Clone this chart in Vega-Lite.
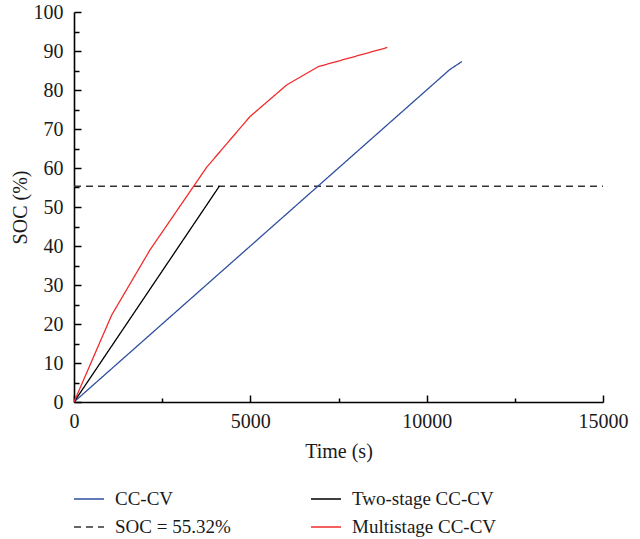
{
  "$schema": "https://vega.github.io/schema/vega-lite/v6.json",
  "autosize": "none",
  "width": 529,
  "height": 390,
  "padding": {"left": 74, "top": 12, "right": 37, "bottom": 137},
  "background": "white",
  "config": {
    "view": {"stroke": null},
    "font": "Liberation Serif, serif",
    "axis": {
      "grid": false,
      "domainColor": "#000000",
      "domainWidth": 1.6,
      "tickColor": "#000000",
      "tickWidth": 1.5,
      "labelFont": "Liberation Serif, serif",
      "labelFontSize": 20,
      "labelColor": "#1a1a1a",
      "titleFont": "Liberation Serif, serif",
      "titleFontSize": 20,
      "titleFontWeight": "normal",
      "titleColor": "#1a1a1a"
    },
    "legend": {
      "labelFont": "Liberation Serif, serif",
      "labelFontSize": 19,
      "labelColor": "#1a1a1a"
    }
  },
  "data": {
    "values": [
      {"series": "SOC = 55.32%", "t": 0, "soc": 55.32},
      {"series": "SOC = 55.32%", "t": 15000, "soc": 55.32},
      {"series": "CC-CV", "t": 0, "soc": 0},
      {"series": "CC-CV", "t": 10650, "soc": 85.2},
      {"series": "CC-CV", "t": 11000, "soc": 87.3},
      {"series": "Two-stage CC-CV", "t": 0, "soc": 0},
      {"series": "Two-stage CC-CV", "t": 4120, "soc": 55.32},
      {"series": "Multistage CC-CV", "t": 0, "soc": 0},
      {"series": "Multistage CC-CV", "t": 1069, "soc": 22.3},
      {"series": "Multistage CC-CV", "t": 2155, "soc": 39.0},
      {"series": "Multistage CC-CV", "t": 3763, "soc": 60.2},
      {"series": "Multistage CC-CV", "t": 4991, "soc": 73.2},
      {"series": "Multistage CC-CV", "t": 6032, "soc": 81.3},
      {"series": "Multistage CC-CV", "t": 6928, "soc": 86.0},
      {"series": "Multistage CC-CV", "t": 8885, "soc": 90.9}
    ]
  },
  "resolve": {"axis": {"x": "independent", "y": "independent"}},
  "layer": [
    {
      "mark": {"type": "line", "strokeWidth": 1.3, "clip": true},
      "encoding": {
        "x": {
          "field": "t",
          "type": "quantitative",
          "scale": {"domain": [0, 15000], "nice": false},
          "axis": {
            "orient": "bottom",
            "title": "Time (s)",
            "values": [0, 5000, 10000, 15000],
            "format": "d",
            "ticks": false,
            "tickSize": 0,
            "labelPadding": 9,
            "labelFlush": false,
            "titlePadding": 10
          }
        },
        "y": {
          "field": "soc",
          "type": "quantitative",
          "scale": {"domain": [0, 100], "nice": false},
          "axis": {
            "orient": "left",
            "title": "SOC (%)",
            "values": [0, 10, 20, 30, 40, 50, 60, 70, 80, 90, 100],
            "ticks": false,
            "tickSize": 0,
            "labelPadding": 11,
            "labelFlush": false,
            "titlePadding": 3
          }
        },
        "color": {
          "field": "series",
          "type": "nominal",
          "scale": {
            "domain": ["CC-CV", "SOC = 55.32%", "Two-stage CC-CV", "Multistage CC-CV"],
            "range": ["#2f4f9f", "#333333", "#000000", "#f02c2c"]
          },
          "legend": {
            "title": null,
            "orient": "none",
            "legendX": -1,
            "legendY": 471,
            "columns": 2,
            "columnPadding": 77,
            "rowPadding": 2,
            "padding": 0,
            "symbolType": "stroke",
            "symbolSize": 900,
            "symbolStrokeWidth": 1.3,
            "labelOffset": 10,
            "labelFont": "Liberation Serif, serif"
          }
        },
        "strokeDash": {
          "field": "series",
          "type": "nominal",
          "scale": {
            "domain": ["CC-CV", "SOC = 55.32%", "Two-stage CC-CV", "Multistage CC-CV"],
            "range": [[1, 0], [7, 5], [1, 0], [1, 0]]
          },
          "legend": null
        }
      }
    },
    {
      "mark": {"type": "line", "opacity": 0},
      "encoding": {
        "x": {
          "field": "t",
          "type": "quantitative",
          "axis": {
            "orient": "top",
            "offset": -390,
            "title": null,
            "labels": false,
            "domain": false,
            "values": [0, 2500, 5000, 7500, 10000, 12500, 15000],
            "tickSize": {"condition": {"test": "datum.value % 5000 === 0", "value": 7}, "value": 4}
          }
        },
        "y": {
          "field": "soc",
          "type": "quantitative",
          "axis": {
            "orient": "right",
            "offset": -529,
            "title": null,
            "labels": false,
            "domain": false,
            "values": [0, 5, 10, 15, 20, 25, 30, 35, 40, 45, 50, 55, 60, 65, 70, 75, 80, 85, 90, 95, 100],
            "tickSize": {"condition": {"test": "datum.value % 10 === 0", "value": 7}, "value": 5}
          }
        },
        "detail": {"field": "series"}
      }
    }
  ]
}
